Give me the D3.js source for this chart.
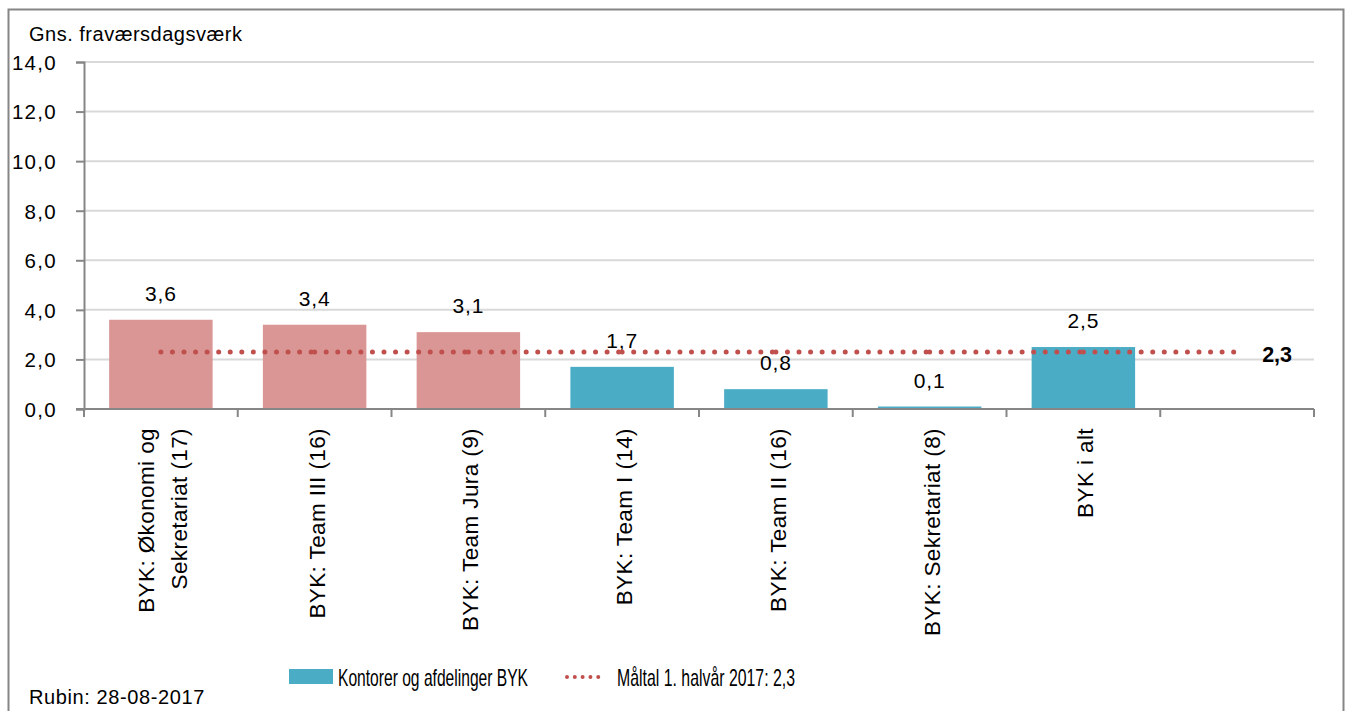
<!DOCTYPE html>
<html>
<head>
<meta charset="utf-8">
<script src="https://cdn.jsdelivr.net/npm/d3@7"></script>
<style>
  body { margin: 0; background: #fff; }
  text { font-family: "Liberation Sans", Arial, sans-serif; fill: #000; }
</style>
</head>
<body>
<div id="chart"></div>
<script>
const categories = [
  ['BYK: Økonomi og', 'Sekretariat (17)'],
  ['BYK: Team III (16)'],
  ['BYK: Team Jura (9)'],
  ['BYK: Team I (14)'],
  ['BYK: Team II (16)'],
  ['BYK: Sekretariat (8)'],
  ['BYK i alt'],
  ['']
]
const values = [3.6, 3.4, 3.1, 1.7, 0.8, 0.1, 2.5, null]
const aboveTarget = [true, true, true, false, false, false, false, false]
const target = [2.3, 2.3, 2.3, 2.3, 2.3, 2.3, 2.3, 2.3]
const yTicks = [0, 2, 4, 6, 8, 10, 12, 14]

const Width = 1348
const Height = 711
const plotLeft = 84, plotRight = 1314, plotTop = 62, plotBottom = 409
const blue = '#4BACC6'
const red = '#D99694'
const dotRed = '#C0504D'
const axisGrey = '#868686'
const fmt = v => d3.format('.1f')(v).replace('.', ',')

const svg = d3.select('#chart')
  .append('svg')
  .attr('width', Width)
  .attr('height', Height)

// outer frame
svg.append('rect')
  .attr('x', 8.5).attr('y', 9.5)
  .attr('width', 1335).attr('height', 720)
  .attr('fill', 'none')
  .attr('stroke', axisGrey)
  .attr('stroke-width', 2)

const idx = d3.range(categories.length)

const x = d3.scaleBand()
  .domain(idx)
  .range([plotLeft, plotRight])
  .paddingInner(0.327)
  .paddingOuter(0.1635)

const xStep = d3.scaleBand()
  .domain(idx)
  .range([plotLeft, plotRight])

const y = d3.scaleLinear()
  .domain([0, 14])
  .range([plotBottom, plotTop])

const cx = i => xStep(i) + xStep.bandwidth() / 2

// gridlines
svg.append('g')
  .selectAll('line')
  .data(yTicks.filter(d => d > 0))
  .enter().append('line')
  .attr('x1', plotLeft).attr('x2', plotRight)
  .attr('y1', d => y(d)).attr('y2', d => y(d))
  .attr('stroke', '#D9D9D9')
  .attr('stroke-width', 2)

// y axis
const yAxis = svg.append('g')
  .attr('transform', `translate(${plotLeft},0)`)
  .call(d3.axisLeft(y).tickValues(yTicks).tickFormat(fmt).tickSize(8).tickPadding(19))
yAxis.select('.domain').attr('stroke', axisGrey).attr('stroke-width', 2)
yAxis.selectAll('.tick line').attr('stroke', axisGrey).attr('stroke-width', 2)
yAxis.selectAll('.tick text')
  .attr('font-size', 20.5)
  .attr('letter-spacing', 1.3)
  .attr('dy', '0.36em')
  .style('font-family', '"Liberation Sans", Arial, sans-serif')
  .attr('fill', '#000')

// bars
svg.append('g')
  .selectAll('rect')
  .data(idx.filter(i => values[i] != null))
  .enter().append('rect')
  .attr('x', i => x(i))
  .attr('y', i => y(values[i]))
  .attr('width', x.bandwidth())
  .attr('height', i => y(0) - y(values[i]))
  .attr('fill', i => aboveTarget[i] ? red : blue)

// x axis
const xAxis = svg.append('g')
  .attr('transform', `translate(0,${plotBottom})`)
xAxis.append('line')
  .attr('x1', plotLeft - 8).attr('x2', plotRight)
  .attr('stroke', axisGrey).attr('stroke-width', 2)
xAxis.selectAll('.xtick')
  .data(idx.concat([categories.length]))
  .enter().append('line')
  .attr('x1', i => i < categories.length ? xStep(i) : plotRight)
  .attr('x2', i => i < categories.length ? xStep(i) : plotRight)
  .attr('y1', 0).attr('y2', 8)
  .attr('stroke', axisGrey).attr('stroke-width', 2)

// x labels (rotated)
const xl = svg.append('g')
  .selectAll('text')
  .data(idx)
  .enter().append('text')
  .attr('transform', i => `translate(${cx(i)},428) rotate(-90)`)
  .attr('text-anchor', 'end')
  .attr('font-size', 22.5)
  .attr('letter-spacing', 0.4)
xl.selectAll('tspan')
  .data(i => categories[i].map((t, k, arr) => ({ t, k, n: arr.length })))
  .enter().append('tspan')
  .attr('x', 0)
  .attr('y', d => d.n === 1 ? 10 : (d.k === 0 ? -7 : 26))
  .text(d => d.t)

// value labels
svg.append('g')
  .selectAll('text')
  .data(idx.filter(i => values[i] != null))
  .enter().append('text')
  .attr('x', i => cx(i))
  .attr('y', i => y(values[i]) - 19)
  .attr('text-anchor', 'middle')
  .attr('font-size', 21)
  .attr('letter-spacing', 0.8)
  .text(i => fmt(values[i]))

// target line, dotted segment by segment
const segs = d3.pairs(idx)
svg.append('g')
  .selectAll('line')
  .data(segs)
  .enter().append('line')
  .attr('x1', d => cx(d[0])).attr('x2', d => cx(d[1]))
  .attr('y1', d => y(target[d[0]])).attr('y2', d => y(target[d[1]]))
  .attr('stroke', dotRed)
  .attr('stroke-width', 5)
  .attr('stroke-linecap', 'round')
  .attr('stroke-dasharray', '0.01 11.55')

const last = categories.length - 1
svg.append('text')
  .attr('x', cx(last) + 25)
  .attr('y', y(target[last]) + 10)
  .attr('font-size', 21.5)
  .attr('font-weight', 'bold')
  .text(fmt(target[last]))

// title and source
svg.append('text')
  .attr('x', 29).attr('y', 41)
  .attr('font-size', 20)
  .attr('letter-spacing', 0.5)
  .text('Gns. fraværsdagsværk')

svg.append('text')
  .attr('x', 29).attr('y', 704)
  .attr('font-size', 20)
  .attr('letter-spacing', 0.6)
  .text('Rubin: 28-08-2017')

// legend
const legend = svg.append('g')
legend.append('rect')
  .attr('x', 289).attr('y', 669)
  .attr('width', 44).attr('height', 15)
  .attr('fill', blue)
legend.append('text')
  .attr('x', 338).attr('y', 686)
  .attr('font-size', 24)
  .attr('textLength', 190)
  .attr('lengthAdjust', 'spacingAndGlyphs')
  .text('Kontorer og afdelinger BYK')
legend.append('line')
  .attr('x1', 567).attr('x2', 606)
  .attr('y1', 677).attr('y2', 677)
  .attr('stroke', dotRed)
  .attr('stroke-width', 4)
  .attr('stroke-linecap', 'round')
  .attr('stroke-dasharray', '0.01 7.8')
legend.append('text')
  .attr('x', 617).attr('y', 686)
  .attr('font-size', 24)
  .attr('textLength', 178)
  .attr('lengthAdjust', 'spacingAndGlyphs')
  .text('Måltal 1. halvår 2017: 2,3')
</script>
</body>
</html>
